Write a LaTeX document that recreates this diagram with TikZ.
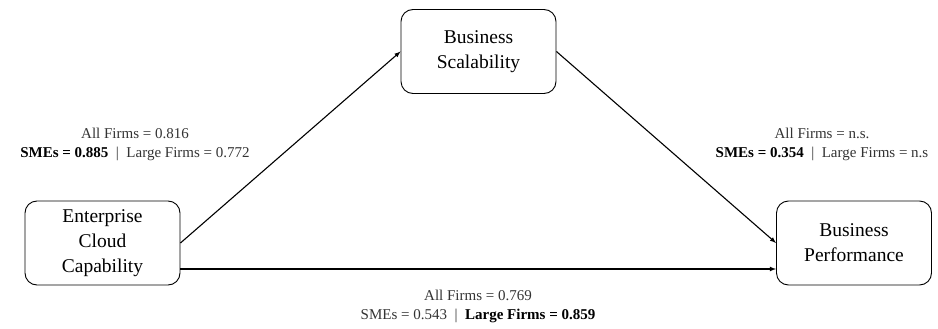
\documentclass[tikz,border=0pt]{standalone}
\usepackage{fontspec}
\setmainfont{Liberation Serif}
\usetikzlibrary{arrows,shapes}
\newcommand{\boxw}{155pt}
\newcommand{\boxh}{84pt}
\newcommand{\sep}{\enspace|\enspace}

\begin{document}
\begin{tikzpicture}[x=1pt, y=-1pt]
                %\draw[help lines] (0,0) grid (938,329);
                \useasboundingbox (0,0) rectangle (938,329);
                \tikzset{construct/.style = {draw, rounded corners=12pt, line width=0.9pt, minimum width=\boxw, minimum height=\boxh, inner sep=2pt, align=center, font=\fontsize{19.5}{25}\selectfont}}
                \tikzset{effect/.style = {-latex, line width=1.1pt}}
                \tikzset{coef/.style = {align=center, inner sep=0pt, text=black!80, font=\fontsize{15}{19}\selectfont}}
                % constructs
                \node[construct] (ecc) at (102.5,243) {Enterprise\\Cloud\\Capability};
                \node[construct] (bs) at (478.5,51.5) {Business\\Scalability};
                \node[construct] (bp) at (854,243) {Business\\Performance};
                % paths
                \draw[effect] (ecc.east) -- (bs.west);
                \draw[effect] (bs.east) -- (bp.west);
                \draw[effect] ([yshift=-26pt]ecc.east) -- ([yshift=-26pt]bp.west);
                % coefficients
                \node[coef] (ecc-bs) at (135,144.5) {All Firms = 0.816\\\textcolor{black}{\textbf{SMEs = 0.885}}\sep Large Firms = 0.772};
                \node[coef] (bs-bp) at (822,144.5) {All Firms = n.s.\\\textcolor{black}{\textbf{SMEs = 0.354}}\sep Large Firms = n.s};
                \node[coef] (ecc-bp) at (478,306.5) {All Firms = 0.769\\SMEs = 0.543\sep\textcolor{black}{\textbf{Large Firms = 0.859}}};
\end{tikzpicture}
\end{document}
